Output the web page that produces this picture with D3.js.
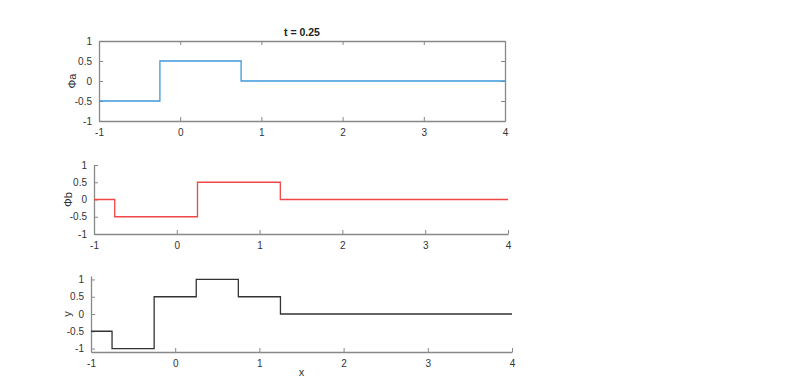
<!DOCTYPE html>
<html>
<head>
<meta charset="utf-8">
<script src="https://cdn.jsdelivr.net/npm/d3@7"></script>
<style>
  body { margin: 0; background: #fff; }
  text { font-family: "Liberation Sans", Arial, sans-serif; }
  .tick text { font-size: 10px; fill: #333; }
  .axis path, .axis line { stroke: #888; }
</style>
</head>
<body>
<div id="chart"></div>
<script>
// Figure size
var svgWidth = 800;
var svgHeight = 390;

// Shared tick values
var xTicks = [-1, 0, 1, 2, 3, 4];
var yTicks = [-1, -0.5, 0, 0.5, 1];
var titleText = "t = 0.25";

// Step data: breakpoints and value held from each breakpoint to the next
var phiAx = [-1, -0.25, 0.75, 4];
var phiAy = [-0.5, 0.5, 0, 0];

var phiBx = [-1, -0.75, 0.25, 1.25, 4];
var phiBy = [0, -0.5, 0.5, 0, 0];

var sumX = [-1, -0.75, -0.25, 0.25, 0.75, 1.25, 4];
var sumY = [-0.5, -1, 0.5, 1, 0.5, 0, 0];

// Panels (pixel boxes of each axes)
var panels = [
  { xs: phiAx, ys: phiAy, color: "#3d98d8", label: "\u03A6a", left: 99, right: 505, top: 41, bottom: 121, ydom: [-1, 1], box: true, labelX: 72 },
  { xs: phiBx, ys: phiBy, color: "#f24545", label: "\u03A6b", left: 94, right: 508, top: 165, bottom: 234, ydom: [-1, 1], box: false, labelX: 68 },
  { xs: sumX, ys: sumY, color: "#333333", label: "y", left: 91, right: 512, top: 276, bottom: 352, ydom: [-1.1, 1.1], box: false, labelX: 67 }
];

var svg = d3.select("#chart")
  .append("svg")
  .attr("width", svgWidth)
  .attr("height", svgHeight);

// plain hyphen minus like the original
var fmt = d => String(d);

panels.forEach(function(p, i) {
  var x = d3.scaleLinear().domain([-1, 4]).range([p.left, p.right]);
  var y = d3.scaleLinear().domain(p.ydom).range([p.bottom, p.top]);

  // bottom axis, ticks pointing inward
  svg.append("g")
    .attr("class", "axis")
    .attr("transform", `translate(0, ${p.bottom})`)
    .call(d3.axisBottom(x).tickValues(xTicks).tickFormat(fmt).tickSizeInner(-4).tickSizeOuter(0).tickPadding(8));

  // left axis
  svg.append("g")
    .attr("class", "axis")
    .attr("transform", `translate(${p.left}, 0)`)
    .call(d3.axisLeft(y).tickValues(yTicks).tickFormat(fmt).tickSizeInner(-4).tickSizeOuter(0).tickPadding(7));

  if (p.box) {
    svg.append("g")
      .attr("class", "axis")
      .attr("transform", `translate(0, ${p.top})`)
      .call(d3.axisTop(x).tickValues(xTicks).tickFormat("").tickSizeInner(-4).tickSizeOuter(0));
    svg.append("g")
      .attr("class", "axis")
      .attr("transform", `translate(${p.right}, 0)`)
      .call(d3.axisRight(y).tickValues(yTicks).tickFormat("").tickSizeInner(-4).tickSizeOuter(0));
  }

  svg.selectAll(".axis path").attr("stroke-width", 1.3);

  // step line
  var pts = p.xs.map((d, j) => [d, p.ys[j]]);
  svg.append("path")
    .datum(pts)
    .attr("fill", "none")
    .attr("stroke", p.color)
    .attr("stroke-width", 1.3)
    .attr("d", d3.line()
      .x(d => x(d[0]))
      .y(d => y(d[1]))
      .curve(d3.curveStepAfter));

  // y label
  svg.append("text")
    .attr("transform", `translate(${p.labelX}, ${(p.top + p.bottom) / 2}) rotate(-90)`)
    .attr("text-anchor", "middle")
    .attr("dy", "0.35em")
    .attr("font-size", 11)
    .attr("fill", "#333")
    .text(p.label);
});

// title
svg.append("text")
  .attr("x", (panels[0].left + panels[0].right) / 2)
  .attr("y", 36)
  .attr("text-anchor", "middle")
  .attr("font-size", 10.5)
  .attr("font-weight", "bold")
  .attr("fill", "#222")
  .text(titleText);

// x label of the last panel
svg.append("text")
  .attr("x", (panels[2].left + panels[2].right) / 2)
  .attr("y", 376)
  .attr("text-anchor", "middle")
  .attr("font-size", 11)
  .attr("fill", "#333")
  .text("x");
</script>
</body>
</html>
